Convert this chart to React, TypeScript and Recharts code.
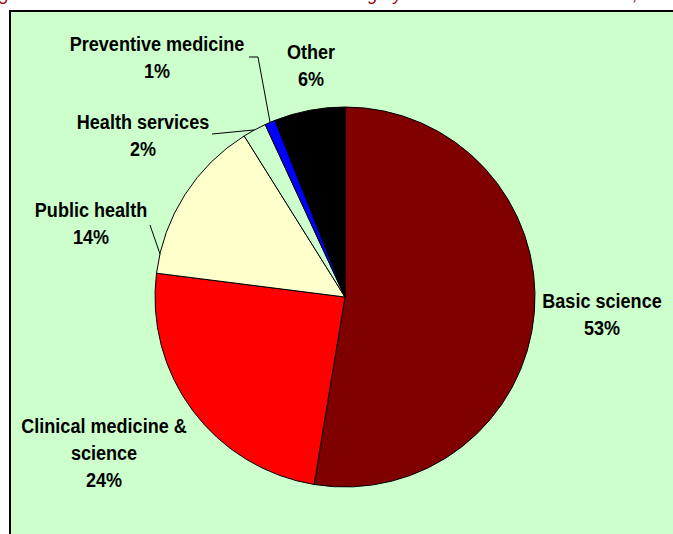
import React from "react";
import { PieChart, Pie, Cell } from "recharts";

const categories = [
  "Basic science",
  "Clinical medicine & science",
  "Public health",
  "Health services",
  "Preventive medicine",
  "Other",
];
const shares = [52.6, 24.4, 14.1, 2.0, 0.9, 6.0];
const sliceColors = ["#800000", "#FF0000", "#FFFFCC", "#CCFFCC", "#0000FF", "#000000"];

// how each category name wraps in its label
const labelLines = [
  ["Basic science"],
  ["Clinical medicine &", "science"],
  ["Public health"],
  ["Health services"],
  ["Preventive medicine"],
  ["Other"],
];

// label centre, relative to the pie centre
const labelOffsets = [
  [257, 17],
  [-241, 156],
  [-254, -74],
  [-202, -162],
  [-188, -240],
  [-34, -232],
];

// leader lines (relative to pie centre); toEdge = finish on the slice's mid arc
const leaders: ({ pts: number[][]; toEdge: boolean } | null)[] = [
  null,
  null,
  { pts: [[-195, -72], [-185, -43]], toEdge: false },
  { pts: [[-133, -163]], toEdge: true },
  { pts: [[-96, -240], [-87, -240]], toEdge: true },
  null,
];

const data = categories.map((name, i) => ({ name, value: shares[i] }));

const RADIAN = Math.PI / 180;
const labelFont = "'Liberation Sans', Arial, sans-serif";

const renderLabel = (props: any) => {
  const { cx, cy, midAngle, outerRadius, index, percent } = props;
  const [dx, dy] = labelOffsets[index];
  const lines = [...labelLines[index], `${Math.round(percent * 100)}%`];
  const lx = cx + dx;
  const ly = cy + dy;
  const lineH = 27;
  const top = ly - ((lines.length - 1) * lineH) / 2;

  const ex = cx + outerRadius * Math.cos(-midAngle * RADIAN);
  const ey = cy + outerRadius * Math.sin(-midAngle * RADIAN);
  const lead = leaders[index];
  let pts = "";
  if (lead) {
    const p = lead.pts.map(([px, py]) => `${cx + px},${cy + py}`);
    if (lead.toEdge) p.push(`${ex},${ey}`);
    pts = p.join(" ");
  }

  return (
    <g key={`lbl-${index}`}>
      {lead && <polyline points={pts} fill="none" stroke="#000" strokeWidth={1} />}
      {/* condensed look: squeeze the text horizontally */}
      <g transform={`translate(${lx},0) scale(0.86,1)`}>
        <text
          textAnchor="middle"
          fill="#000"
          fontFamily={labelFont}
          fontWeight="bold"
          fontSize={21}
        >
          {lines.map((t, i) => (
            <tspan key={i} x={0} y={top + i * lineH} dy="0.35em">
              {t}
            </tspan>
          ))}
        </text>
      </g>
    </g>
  );
};

export default function App() {
  return (
    <div
      style={{
        position: "fixed",
        left: 0,
        top: 0,
        width: 673,
        height: 534,
        overflow: "hidden",
        background: "#fff",
      }}
    >
      <div
        style={{
          position: "absolute",
          left: -15,
          top: -14,
          whiteSpace: "nowrap",
          fontFamily: "'Liberation Sans', Arial, sans-serif",
          fontStyle: "italic",
          fontSize: 17.5,
          lineHeight: 1,
          color: "#990000",
        }}
      >
        Figure 3. Distribution of NIH Awards in Each Category of Biomedical Research Area, 2003
      </div>
      <div
        style={{
          position: "absolute",
          left: 9,
          top: 10,
          width: 700,
          height: 600,
          border: "2px solid #000",
          background: "#CCFFCC",
        }}
      />
      <div style={{ position: "absolute", left: 0, top: 0 }}>
        <PieChart width={673} height={534} margin={{ top: 0, right: 0, bottom: 0, left: 0 }}>
          <Pie
            data={data}
            dataKey="value"
            nameKey="name"
            cx={345}
            cy={297}
            outerRadius={190}
            startAngle={90}
            endAngle={-270}
            stroke="#000"
            strokeWidth={1}
            label={renderLabel}
            labelLine={false}
            isAnimationActive={false}
          >
            {data.map((d, i) => (
              <Cell key={d.name} fill={sliceColors[i]} />
            ))}
          </Pie>
        </PieChart>
      </div>
    </div>
  );
}
